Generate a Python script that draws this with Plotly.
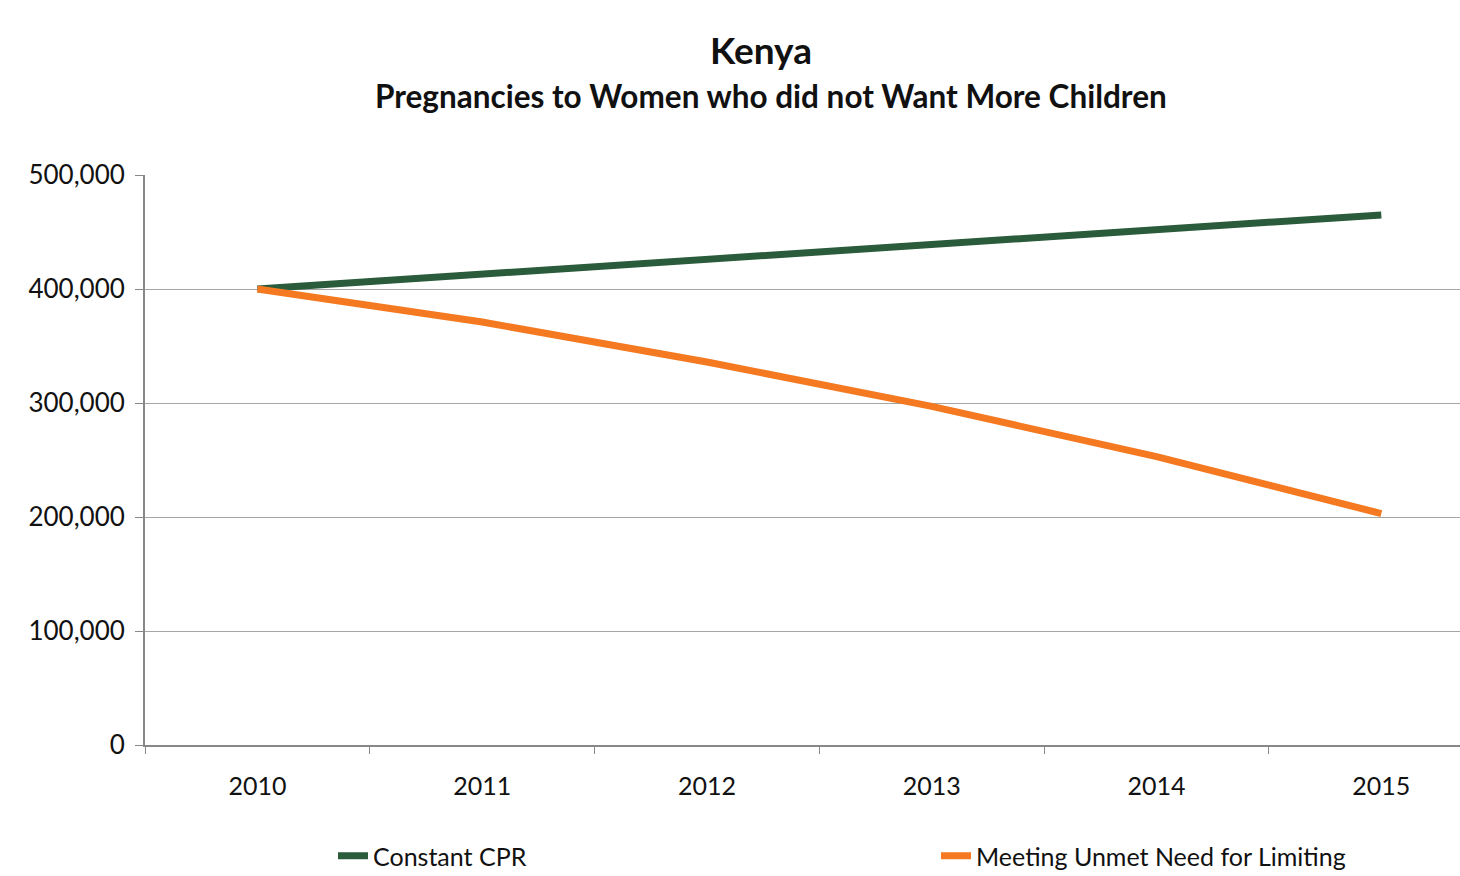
import plotly.graph_objects as go

years = ["2010", "2011", "2012", "2013", "2014", "2015"]
constant_cpr = [400000, 413000, 426000, 439000, 452000, 465000]
meeting_unmet = [400000, 371000, 336000, 297000, 253000, 203000]

FONT = "Lato"
L, T, B, W, H = 145, 175, 131, 1460, 876
PW, PH = W - L, H - T - B


def px_x(x):
    return (x - L) / PW


def px_y(y):
    return (H - B - y) / PH


fig = go.Figure()
fig.add_trace(go.Scatter(x=years, y=constant_cpr, mode="lines", name="Constant CPR",
                         line=dict(color="#2A5B3A", width=7), legend="legend"))
fig.add_trace(go.Scatter(x=years, y=meeting_unmet, mode="lines", name="Meeting Unmet Need for Limiting",
                         line=dict(color="#F47920", width=7), legend="legend2"))

leg_common = dict(orientation="h", xanchor="left", yanchor="middle", y=px_y(856),
                  font=dict(size=25, family=FONT), bgcolor="rgba(0,0,0,0)")

fig.update_layout(
    width=W, height=H,
    margin=dict(l=L, r=0, t=T, b=B, autoexpand=False),
    paper_bgcolor="white", plot_bgcolor="white",
    font=dict(family=FONT, size=22, color="#111111"),
    showlegend=True,
    legend=dict(x=px_x(333), **leg_common),
    legend2=dict(x=px_x(936), **leg_common),
    annotations=[
        dict(text="<b>Kenya</b>", x=px_x(761), xref="paper", y=px_y(50), yref="paper",
             xanchor="center", yanchor="middle", showarrow=False,
             font=dict(size=37, family=FONT)),
        dict(text="<b>Pregnancies to Women who did not Want More Children</b>", x=px_x(771), xref="paper",
             y=px_y(96), yref="paper", xanchor="center", yanchor="middle", showarrow=False,
             font=dict(size=31.5, family=FONT)),
    ],
)

fig.update_xaxes(type="category", range=[-0.5, 5.35], tickson="boundaries",
                 ticks="outside", ticklen=7, tickcolor="#888888",
                 showgrid=False, showline=True, linecolor="#888888", linewidth=2,
                 ticklabelstandoff=18, tickfont=dict(size=25, family=FONT))
fig.update_yaxes(range=[0, 500000], tickvals=[0, 100000, 200000, 300000, 400000, 500000],
                 ticktext=["0", "100,000", "200,000", "300,000", "400,000", "500,000"],
                 ticks="outside", ticklen=8, tickcolor="#888888",
                 showgrid=True, gridcolor="#A6A6A6", gridwidth=1,
                 showline=True, linecolor="#888888", linewidth=2, zeroline=False,
                 ticklabelstandoff=5, tickfont=dict(size=26, family=FONT))

fig.write_html("out.html")
